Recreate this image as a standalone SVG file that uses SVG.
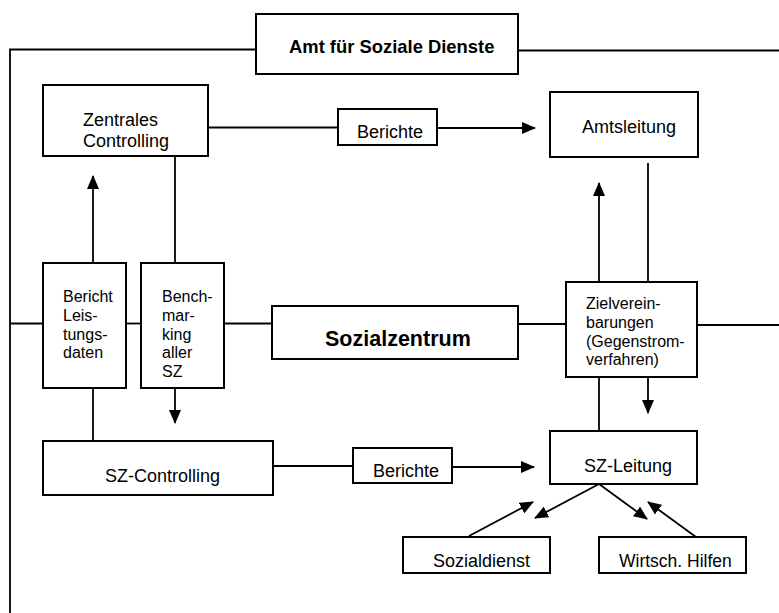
<svg xmlns="http://www.w3.org/2000/svg" width="779" height="613" viewBox="0 0 779 613">
<style>
.box{fill:#fff;stroke:#000;stroke-width:2}
.ln{fill:none;stroke:#000;stroke-width:1.8}
.t{font-family:"Liberation Sans",Arial,sans-serif;font-size:18px;fill:#000}
.s{font-size:16px}
.b{font-weight:bold}
</style>
<defs>
<marker id="ah" markerUnits="userSpaceOnUse" markerWidth="14" markerHeight="12" refX="13" refY="6" orient="auto" viewBox="0 0 14 12">
<path d="M0,0 L14,6 L0,12 z" fill="#000"/>
</marker>
</defs>
<rect width="779" height="613" fill="#fff"/>
<g id="connectors">
<polyline class="ln" points="256,49.5 10,49.5 10,613"/>
<line class="ln" x1="518" y1="50.5" x2="779" y2="50.5"/>
<line class="ln" x1="208" y1="127.5" x2="338" y2="127.5"/>
<line class="ln" x1="437" y1="128" x2="535" y2="128" marker-end="url(#ah)"/>
<line class="ln" x1="93" y1="263" x2="93" y2="176" marker-end="url(#ah)"/>
<line class="ln" x1="175" y1="156" x2="175" y2="263"/>
<line class="ln" x1="10" y1="323.5" x2="43" y2="323.5"/>
<line class="ln" x1="126" y1="323.5" x2="141" y2="323.5"/>
<line class="ln" x1="224" y1="323.5" x2="272" y2="323.5"/>
<line class="ln" x1="518" y1="324" x2="566" y2="324"/>
<line class="ln" x1="697" y1="325" x2="779" y2="325"/>
<line class="ln" x1="599" y1="282" x2="599" y2="183" marker-end="url(#ah)"/>
<line class="ln" x1="648" y1="163" x2="648" y2="282"/>
<line class="ln" x1="175" y1="388" x2="175" y2="423" marker-end="url(#ah)"/>
<line class="ln" x1="93" y1="388" x2="93" y2="441"/>
<line class="ln" x1="273" y1="466" x2="353" y2="466"/>
<line class="ln" x1="452" y1="467" x2="534" y2="467" marker-end="url(#ah)"/>
<line class="ln" x1="599" y1="377" x2="599" y2="431"/>
<line class="ln" x1="648" y1="377" x2="648" y2="413" marker-end="url(#ah)"/>
<line class="ln" x1="599" y1="484" x2="535" y2="518" marker-end="url(#ah)"/>
<line class="ln" x1="599" y1="484" x2="647" y2="519" marker-end="url(#ah)"/>
<line class="ln" x1="469" y1="536" x2="533" y2="502" marker-end="url(#ah)"/>
<line class="ln" x1="696" y1="537" x2="648" y2="502" marker-end="url(#ah)"/>
</g>
<g id="amt">
<rect class="box" x="256" y="14" width="262" height="60"/>
<text class="t b" x="289" y="53" style="font-size:18.4px">Amt für Soziale Dienste</text>
</g>
<g id="zentrales-controlling">
<rect class="box" x="43" y="85" width="165" height="71"/>
<text class="t" x="83" y="126">Zentrales</text>
<text class="t" x="83" y="147">Controlling</text>
</g>
<g id="berichte-oben">
<rect class="box" x="338" y="109" width="99" height="36"/>
<text class="t" x="357" y="138">Berichte</text>
</g>
<g id="amtsleitung">
<rect class="box" x="550" y="92" width="148" height="65"/>
<text class="t" x="582" y="133">Amtsleitung</text>
</g>
<g id="bericht-leistungsdaten">
<rect class="box" x="43" y="263" width="83" height="125"/>
<text class="t s" x="63" y="302">Bericht</text>
<text class="t s" x="63" y="321">Leis-</text>
<text class="t s" x="63" y="339.5">tungs-</text>
<text class="t s" x="63" y="358">daten</text>
</g>
<g id="benchmarking">
<rect class="box" x="141" y="263" width="83" height="125"/>
<text class="t s" x="162" y="302">Bench-</text>
<text class="t s" x="162" y="321">mar-</text>
<text class="t s" x="162" y="339.5">king</text>
<text class="t s" x="162" y="358">aller</text>
<text class="t s" x="162" y="377">SZ</text>
</g>
<g id="sozialzentrum">
<rect class="box" x="272" y="306" width="246" height="53"/>
<text class="t b" x="325" y="346" style="font-size:21.5px">Sozialzentrum</text>
</g>
<g id="zielvereinbarungen">
<rect class="box" x="566" y="282" width="131" height="95"/>
<text class="t s" x="586" y="309">Zielverein-</text>
<text class="t s" x="586" y="328">barungen</text>
<text class="t s" x="586" y="347">(Gegenstrom-</text>
<text class="t s" x="586" y="365">verfahren)</text>
</g>
<g id="sz-controlling">
<rect class="box" x="43" y="441" width="230" height="54"/>
<text class="t" x="105" y="482">SZ-Controlling</text>
</g>
<g id="berichte-unten">
<rect class="box" x="353" y="448" width="99" height="35"/>
<text class="t" x="373" y="477">Berichte</text>
</g>
<g id="sz-leitung">
<rect class="box" x="550" y="431" width="147" height="53"/>
<text class="t" x="584" y="472">SZ-Leitung</text>
</g>
<g id="sozialdienst">
<rect class="box" x="403" y="537" width="147" height="36"/>
<text class="t" x="433" y="567">Sozialdienst</text>
</g>
<g id="wirtsch-hilfen">
<rect class="box" x="599" y="537" width="147" height="36"/>
<text class="t" x="619" y="567" style="font-size:17.5px">Wirtsch. Hilfen</text>
</g>
</svg>
